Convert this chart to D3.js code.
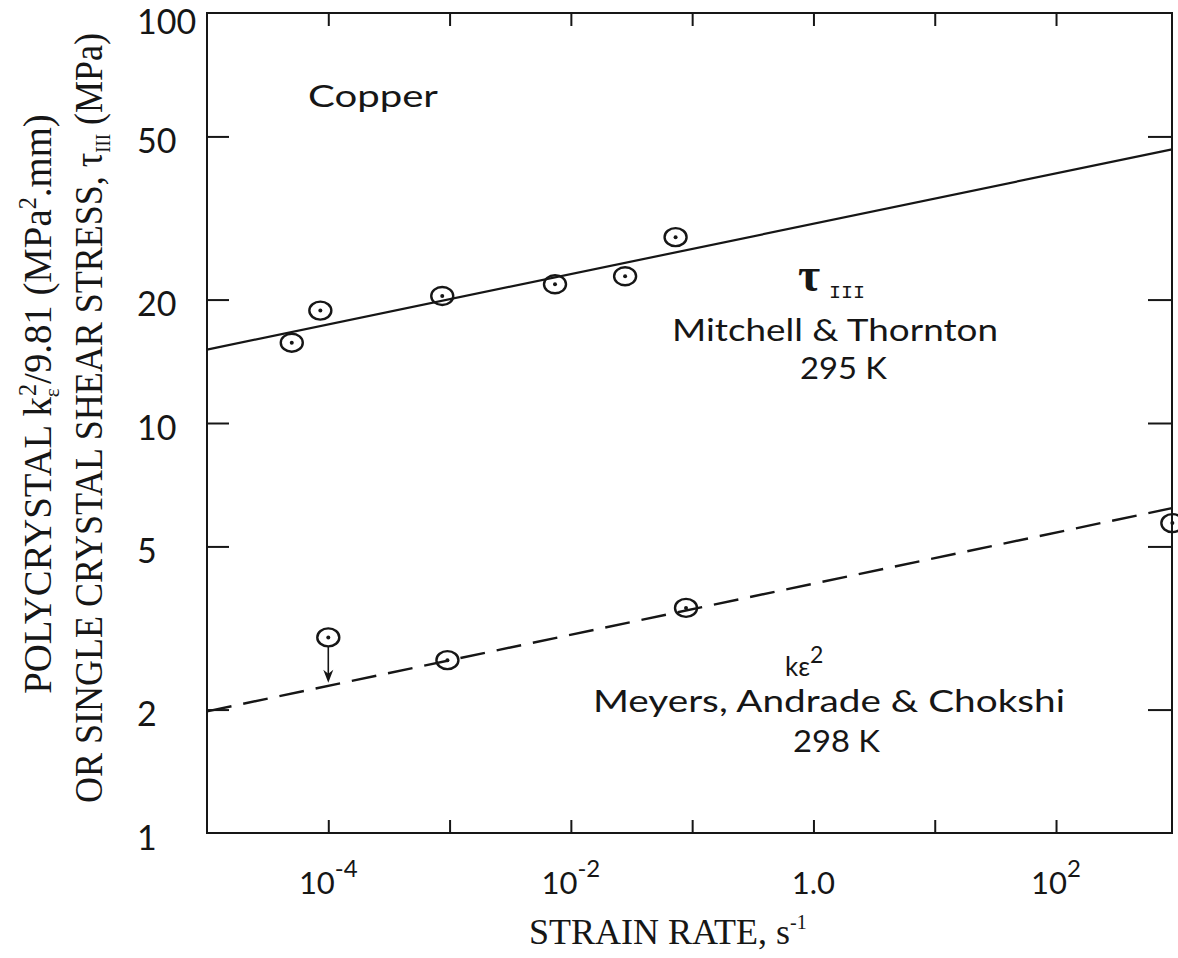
<!DOCTYPE html>
<html>
<head>
<meta charset="utf-8">
<script src="https://cdn.jsdelivr.net/npm/d3@7"></script>
<style>
  html, body { margin: 0; padding: 0; background: #fff; }
  svg { display: block; }
</style>
</head>
<body>
<svg id="chart" width="1178" height="958"></svg>
<script>
// Mitchell & Thornton: single-crystal stage III stress, 295 K
const tauRate = [5.0e-5, 8.6e-5, 8.7e-4, 7.4e-3, 2.8e-2, 7.3e-2];
const tauValue = [15.7, 18.8, 20.4, 21.8, 22.8, 28.4];
const tauFitRate = [1e-5, 904];
const tauFitValue = [15.1, 46.5];

// Meyers, Andrade & Chokshi: polycrystal k_eps^2/9.81, 298 K
const kRate = [1.0e-4, 9.6e-4, 8.9e-2, 910];
const kValue = [3.0, 2.64, 3.54, 5.7];
const kFitRate = [1e-5, 904];
const kFitValue = [1.98, 6.2];

// the 1e-4 point is corrected down onto the fitted line
const arrowRate = 1.0e-4;
const arrowFrom = 3.0;
const arrowTo = 2.3;

// axes
const xDomain = [1e-5, 904];
const yDomain = [1, 100];
const xTickValues = [1e-4, 1e-3, 1e-2, 1e-1, 1, 10, 100];
const xLabelValues = [1e-4, 1e-2, 1, 100];
const xLabelBase = ["10", "10", "1.0", "10"];
const xLabelExp = ["-4", "-2", "", "2"];
const yTickValues = [2, 5, 10, 20, 50];
const yLabelValues = [1, 2, 5, 10, 20, 50, 100];

(function draw() {
  const svg = d3.select("#chart");
  const pL = 207, pR = 1172, pT = 13, pB = 833;

  const x = d3.scaleLog().domain(xDomain).range([pL, pR]);
  const y = d3.scaleLog().domain(yDomain).range([pB, pT]);

  const sans = "Lato, 'Open Sans', sans-serif";
  const serif = "'Liberation Serif', 'Times New Roman', serif";
  const ink = "#161616";

  // frame
  svg.append("rect")
    .attr("x", pL).attr("y", pT)
    .attr("width", pR - pL).attr("height", pB - pT)
    .attr("fill", "none").attr("stroke", ink).attr("stroke-width", 2);

  // inward ticks on all four sides
  function styleAxis(g) {
    g.select(".domain").remove();
    g.selectAll(".tick line").attr("stroke", ink).attr("stroke-width", 2);
    g.selectAll(".tick text").remove();
  }
  svg.append("g").attr("transform", `translate(0,${pB})`)
    .call(d3.axisBottom(x).tickValues(xTickValues).tickSize(-13).tickFormat(""))
    .call(styleAxis);
  svg.append("g").attr("transform", `translate(0,${pT})`)
    .call(d3.axisTop(x).tickValues(xTickValues).tickSize(-13).tickFormat(""))
    .call(styleAxis);
  svg.append("g").attr("transform", `translate(${pL},0)`)
    .call(d3.axisLeft(y).tickValues(yTickValues).tickSize(-22).tickFormat(""))
    .call(styleAxis);
  svg.append("g").attr("transform", `translate(${pR},0)`)
    .call(d3.axisRight(y).tickValues(yTickValues).tickSize(-24).tickFormat(""))
    .call(styleAxis);

  // y tick labels (the top one sits a little lower so it stays on the page)
  svg.append("g").selectAll("text")
    .data(yLabelValues)
    .join("text")
    .attr("x", 137)
    .attr("y", d => y(d) + (d === 100 ? 12 : 8))
    .attr("dominant-baseline", "middle")
    .attr("font-family", sans)
    .attr("font-size", 34)
    .attr("fill", ink)
    .text(d => d);

  // x tick labels with exponents
  const xl = svg.append("g").selectAll("text")
    .data(xLabelValues.map((v, i) => ({ v, base: xLabelBase[i], exp: xLabelExp[i] })))
    .join("text")
    .attr("x", d => x(d.v))
    .attr("y", 894)
    .attr("text-anchor", "middle")
    .attr("font-family", sans)
    .attr("font-size", 31)
    .attr("fill", ink);
  xl.append("tspan").text(d => d.base);
  xl.filter(d => d.exp).append("tspan")
    .attr("dy", -17).attr("font-size", 24)
    .text(d => d.exp);

  // fitted lines
  const line = d3.line().x(d => x(d[0])).y(d => y(d[1]));
  svg.append("path")
    .datum(tauFitRate.map((r, i) => [r, tauFitValue[i]]))
    .attr("d", line)
    .attr("fill", "none").attr("stroke", ink).attr("stroke-width", 2.2);
  svg.append("path")
    .datum(kFitRate.map((r, i) => [r, kFitValue[i]]))
    .attr("d", line)
    .attr("fill", "none").attr("stroke", ink).attr("stroke-width", 2.4)
    .attr("stroke-dasharray", "25 12");

  // data markers: open ellipse with a centre dot
  function markers(rates, values) {
    const g = svg.append("g").selectAll("g")
      .data(rates.map((r, i) => [r, values[i]]))
      .join("g")
      .attr("transform", d => `translate(${x(d[0])},${y(d[1])})`);
    g.append("ellipse").attr("rx", 11).attr("ry", 9)
      .attr("fill", "none").attr("stroke", ink).attr("stroke-width", 2.4);
    g.append("circle").attr("r", 2).attr("fill", ink);
  }
  markers(tauRate, tauValue);
  markers(kRate, kValue);

  // correction arrow
  const ax = x(arrowRate), ay0 = y(arrowFrom) + 9, ay1 = y(arrowTo) - 2;
  svg.append("line")
    .attr("x1", ax).attr("y1", ay0)
    .attr("x2", ax).attr("y2", ay1 - 6)
    .attr("stroke", ink).attr("stroke-width", 1.6);
  svg.append("path")
    .attr("d", `M${ax - 5},${ay1 - 13} L${ax},${ay1 - 9} L${ax + 5},${ay1 - 13} L${ax},${ay1} Z`)
    .attr("fill", ink);

  // annotations
  function label(txt, x0, base, size, width) {
    return svg.append("text")
      .attr("x", x0).attr("y", base)
      .attr("font-family", sans).attr("font-size", size)
      .attr("fill", ink)
      .attr("textLength", width).attr("lengthAdjust", "spacingAndGlyphs")
      .text(txt);
  }
  label("Copper", 308, 107, 30, 130);
  label("Mitchell & Thornton", 672, 341, 30, 326);
  label("295 K", 800, 379, 30, 87);
  label("Meyers, Andrade & Chokshi", 593, 712, 30, 472);
  label("298 K", 793, 752, 30, 87);

  svg.append("text")
    .attr("x", 798).attr("y", 291)
    .attr("font-family", serif).attr("font-size", 48)
    .attr("font-weight", "bold")
    .attr("fill", ink).text("τ");
  svg.append("text")
    .attr("x", 829).attr("y", 298)
    .attr("font-family", "'Liberation Mono', monospace").attr("font-size", 18)
    .attr("textLength", 36).attr("lengthAdjust", "spacingAndGlyphs")
    .attr("fill", ink).text("III");

  const kl = svg.append("text")
    .attr("x", 785).attr("y", 676)
    .attr("font-family", sans).attr("font-size", 26)
    .attr("fill", ink);
  kl.append("tspan").text("kε");
  kl.append("tspan").attr("dy", -13).attr("font-size", 23).text("2");

  // axis titles
  const xt = svg.append("text")
    .attr("x", 529).attr("y", 944)
    .attr("font-family", serif).attr("font-size", 36)
    .attr("fill", ink);
  xt.append("tspan").text("STRAIN RATE, s");
  xt.append("tspan").attr("dy", -15).attr("font-size", 20).text("-1");

  const yt1 = svg.append("text")
    .attr("transform", "translate(51,404) rotate(-90) scale(0.97,1)")
    .attr("text-anchor", "middle")
    .attr("font-family", serif).attr("font-size", 40)
    .attr("fill", ink);
  yt1.append("tspan").text("POLYCRYSTAL k");
  yt1.append("tspan").attr("dy", 8).attr("font-size", 22).text("ε");
  yt1.append("tspan").attr("dy", -23).attr("dx", -8).attr("font-size", 25).text("2");
  yt1.append("tspan").attr("dy", 15).text("/9.81 (MPa");
  yt1.append("tspan").attr("dy", -15).attr("font-size", 25).text("2");
  yt1.append("tspan").attr("dy", 15).text(".mm)");

  const yt2 = svg.append("text")
    .attr("transform", "translate(102,418) rotate(-90) scale(0.9,1)")
    .attr("text-anchor", "middle")
    .attr("font-family", serif).attr("font-size", 40)
    .attr("fill", ink);
  yt2.append("tspan").text("OR SINGLE CRYSTAL SHEAR STRESS, τ");
  yt2.append("tspan").attr("dy", 8).attr("font-size", 21).text("III");
  yt2.append("tspan").attr("dy", -8).text(" (MPa)");
})();
</script>
</body>
</html>
